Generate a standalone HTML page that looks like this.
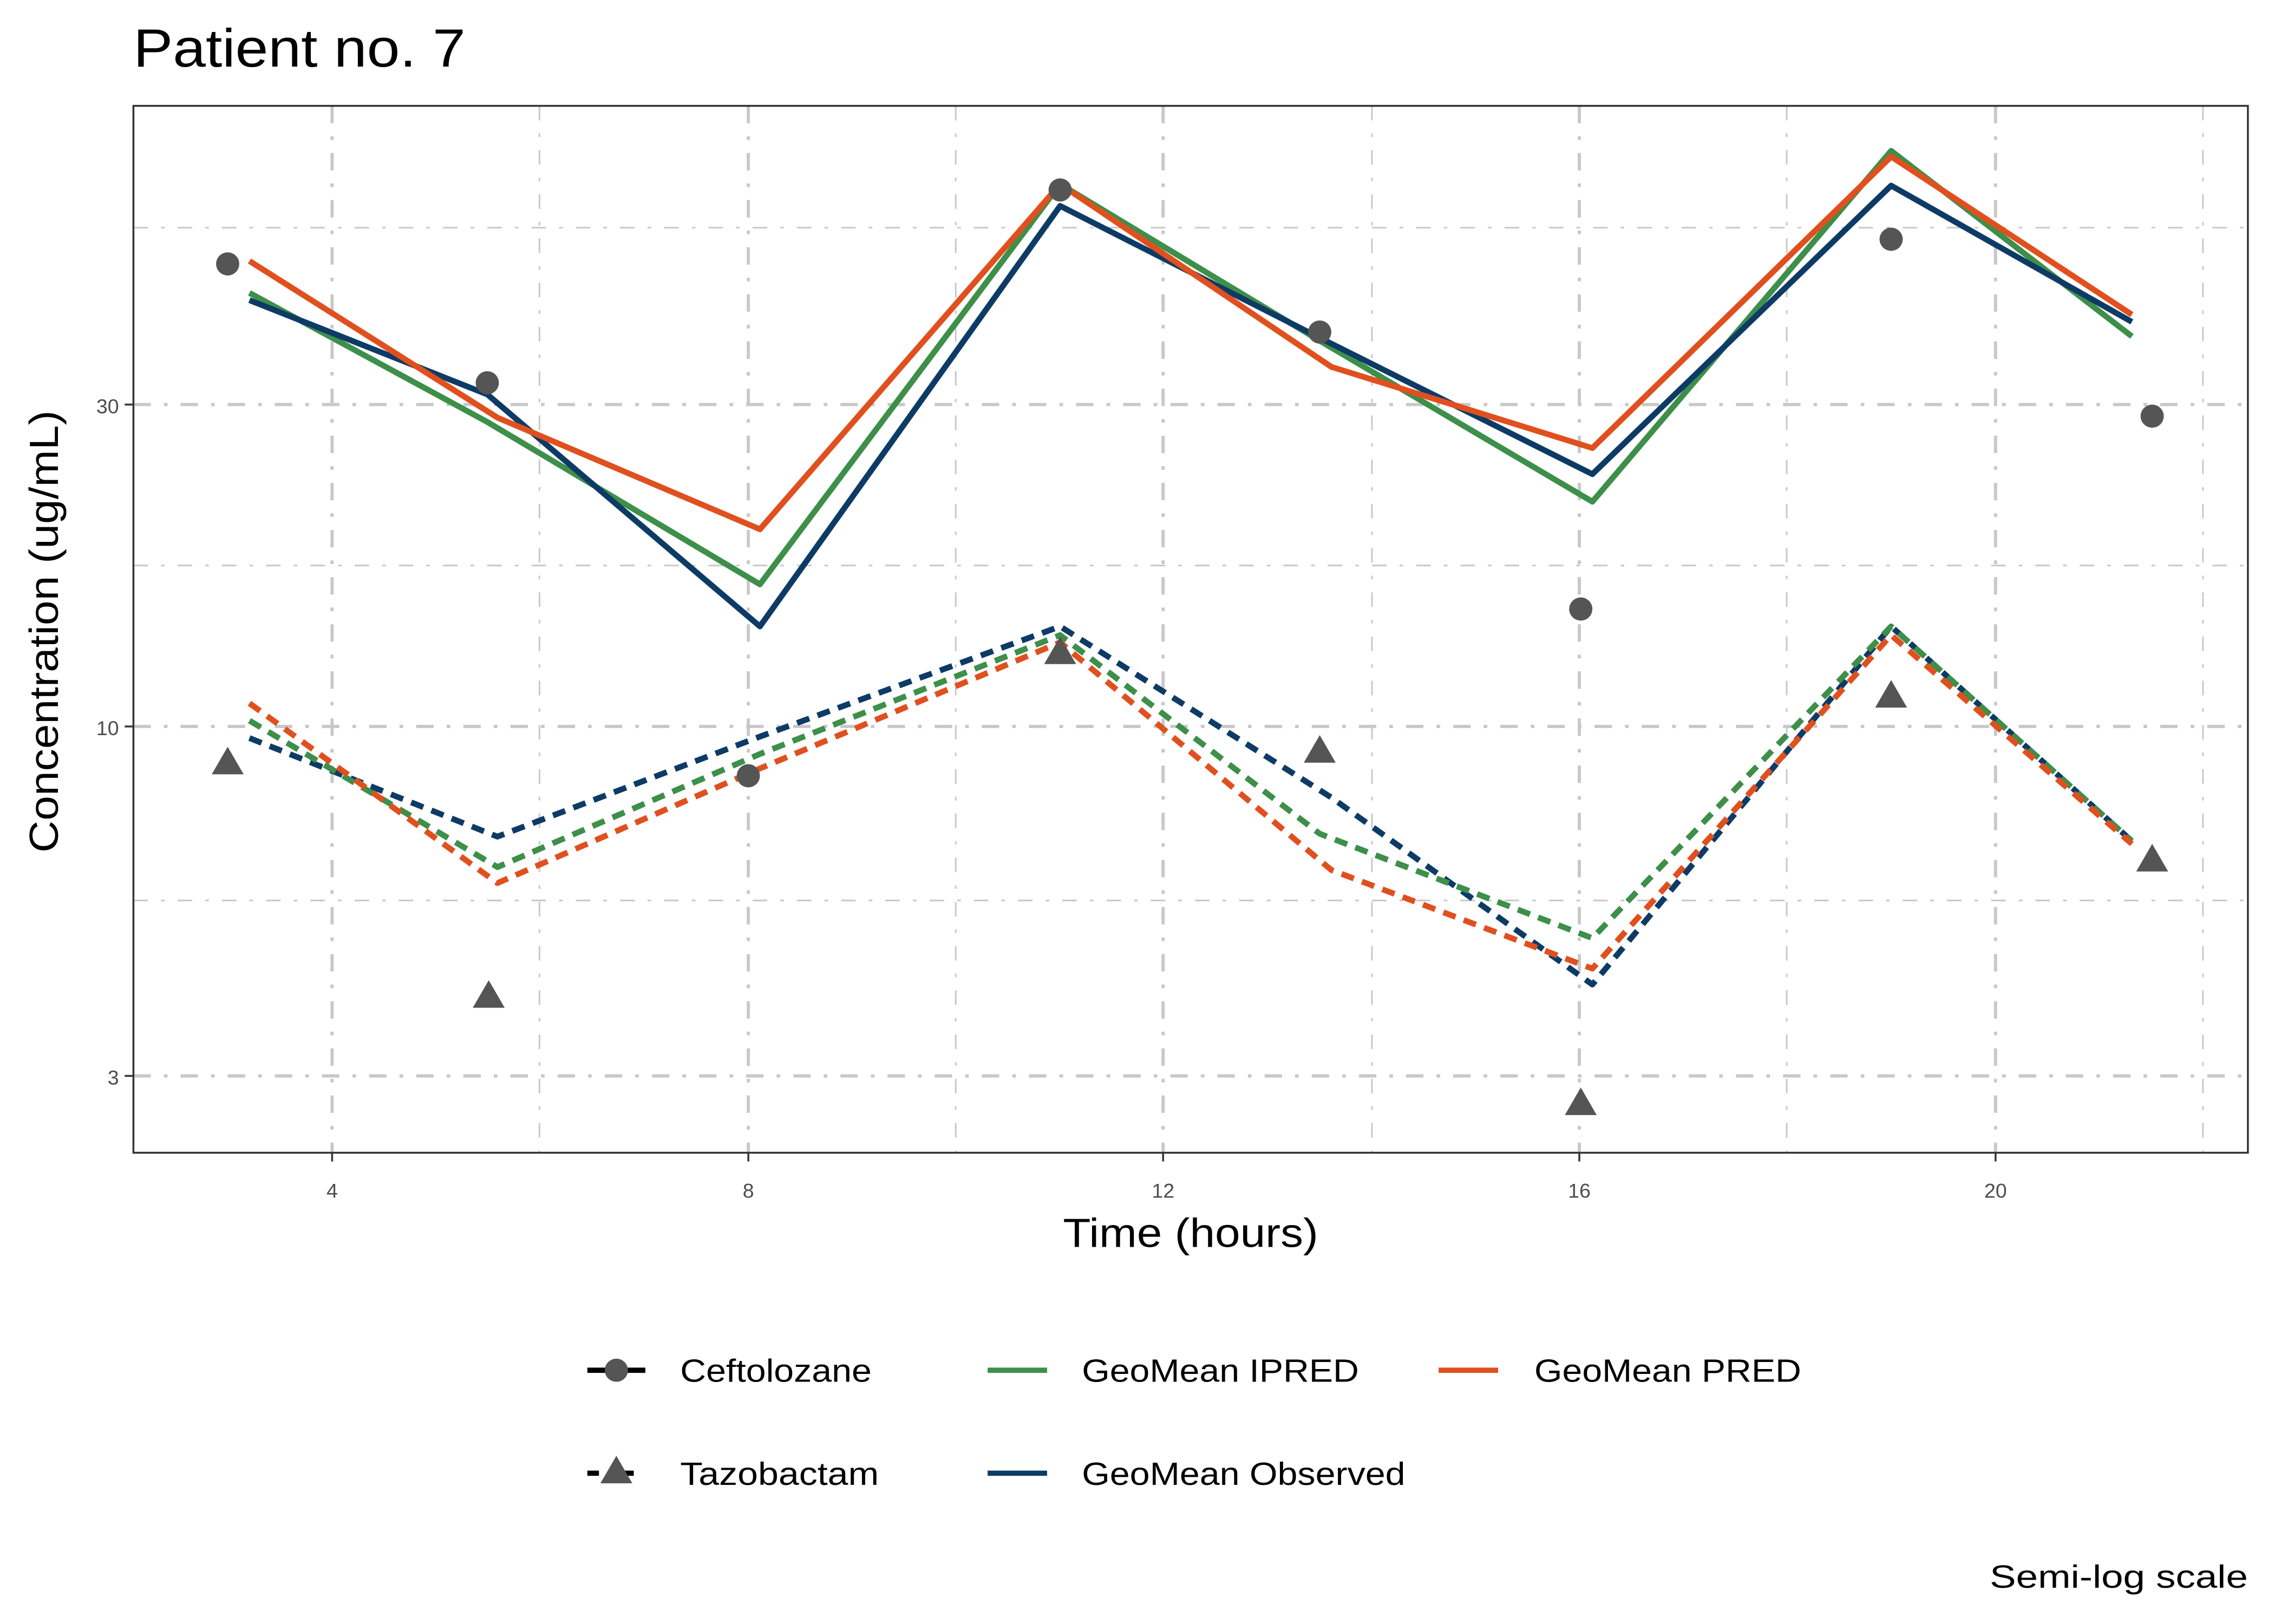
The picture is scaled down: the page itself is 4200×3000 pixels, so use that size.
<!DOCTYPE html>
<html><head><meta charset="utf-8"><style>
html,body{margin:0;padding:0;background:#fff;}
svg{display:block;}
text{font-family:"Liberation Sans",Arial,sans-serif;}
</style></head><body>
<svg width="4200" height="3000" viewBox="0 0 1568 1120" xmlns="http://www.w3.org/2000/svg">
<rect width="1568" height="1120" fill="#fff"/>
<text x="92" y="46" font-size="37" fill="#000" textLength="229" lengthAdjust="spacingAndGlyphs">Patient no. 7</text>
<g stroke="#c8c8c8" fill="none">
 <g stroke-width="1.1" stroke-dasharray="10 9 2.5 9">
  <line x1="92" x2="1550" y1="157" y2="157"/>
  <line x1="92" x2="1550" y1="390" y2="390"/>
  <line x1="92" x2="1550" y1="621" y2="621"/>
  <line y1="73" y2="795" x1="372" x2="372"/>
  <line y1="73" y2="795" x1="659" x2="659"/>
  <line y1="73" y2="795" x1="946" x2="946"/>
  <line y1="73" y2="795" x1="1232" x2="1232"/>
  <line y1="73" y2="795" x1="1519" x2="1519"/>
 </g>
 <g stroke-width="2.2" stroke-dasharray="12 9 2.5 9">
  <line x1="92" x2="1550" y1="279" y2="279"/>
  <line x1="92" x2="1550" y1="501" y2="501"/>
  <line x1="92" x2="1550" y1="742" y2="742"/>
  <line y1="73" y2="795" x1="229" x2="229"/>
  <line y1="73" y2="795" x1="516" x2="516"/>
  <line y1="73" y2="795" x1="802" x2="802"/>
  <line y1="73" y2="795" x1="1089" x2="1089"/>
  <line y1="73" y2="795" x1="1376" x2="1376"/>
 </g>
</g>
<g fill="none" stroke-width="4" stroke-linejoin="round">
 <polyline stroke="#3d8f4a" points="172,202 336,291 524,403 731,127 910,235 1098,346 1304,104 1470,232"/>
 <polyline stroke="#0d3b66" points="172,207 336,272 524,432 731,142 910,233 1098,327 1304,128 1470,222"/>
 <polyline stroke="#e0501f" points="172,180 343,288 524,365 731,127 918,253 1098,309 1304,108 1470,217"/>
 <g stroke-dasharray="9 6">
  <polyline stroke="#0d3b66" points="172,509 343,577 524,508 731,432 918,550 1098,679 1304,432 1470,580"/>
  <polyline stroke="#3d8f4a" points="172,497 343,598 524,520 731,438 910,575 1098,647 1304,432 1470,580"/>
  <polyline stroke="#e0501f" points="172,485 343,609 524,530 731,443 918,600 1098,668 1304,438 1470,582"/>
 </g>
</g>
<g fill="#555">
 <circle cx="157" cy="182" r="8"/><circle cx="336" cy="264" r="8"/><circle cx="516" cy="535" r="8"/>
 <circle cx="731" cy="131" r="8"/><circle cx="910" cy="229" r="8"/><circle cx="1090" cy="420" r="8"/>
 <circle cx="1304" cy="165" r="8"/><circle cx="1484" cy="287" r="8"/>
 <path d="M157,515 l11,19 h-22z"/><path d="M337,676 l11,19 h-22z"/><path d="M731,439 l11,19 h-22z"/>
 <path d="M910,507 l11,19 h-22z"/><path d="M1090,750 l11,19 h-22z"/><path d="M1304,469 l11,19 h-22z"/>
 <path d="M1484,582 l11,19 h-22z"/>
</g>
<rect x="92" y="73" width="1458" height="722" fill="none" stroke="#333" stroke-width="1.3"/>
<g stroke="#333" stroke-width="1.3">
 <line x1="86" x2="92" y1="279" y2="279"/><line x1="86" x2="92" y1="501" y2="501"/><line x1="86" x2="92" y1="742" y2="742"/>
 <line y1="795" y2="801" x1="229" x2="229"/><line y1="795" y2="801" x1="516" x2="516"/><line y1="795" y2="801" x1="802" x2="802"/>
 <line y1="795" y2="801" x1="1089" x2="1089"/><line y1="795" y2="801" x1="1376" x2="1376"/>
</g>
<g font-size="14" fill="#4d4d4d">
 <text x="82" y="285" text-anchor="end">30</text><text x="82" y="507" text-anchor="end">10</text><text x="82" y="748" text-anchor="end">3</text>
 <text x="229" y="826" text-anchor="middle">4</text><text x="516" y="826" text-anchor="middle">8</text><text x="802" y="826" text-anchor="middle">12</text>
 <text x="1089" y="826" text-anchor="middle">16</text><text x="1376" y="826" text-anchor="middle">20</text>
</g>
<text x="733" y="860" font-size="28" textLength="176" lengthAdjust="spacingAndGlyphs">Time (hours)</text>
<text transform="translate(40,588) rotate(-90)" font-size="28" textLength="305" lengthAdjust="spacingAndGlyphs">Concentration (ug/mL)</text>
<g font-size="22" fill="#000">
 <line x1="405" x2="445" y1="945" y2="945" stroke="#000" stroke-width="3.6"/>
 <circle cx="425" cy="945" r="8" fill="#555"/>
 <line x1="405" x2="445" y1="1016" y2="1016" stroke="#000" stroke-width="3.6" stroke-dasharray="8 16"/>
 <path d="M425,1004 l11,19 h-22z" fill="#555"/>
 <text x="469" y="953" textLength="132" lengthAdjust="spacingAndGlyphs">Ceftolozane</text>
 <text x="469" y="1024" textLength="137" lengthAdjust="spacingAndGlyphs">Tazobactam</text>
 <line x1="681" x2="722" y1="945" y2="945" stroke="#3d8f4a" stroke-width="3.6"/>
 <text x="746" y="953" textLength="191" lengthAdjust="spacingAndGlyphs">GeoMean IPRED</text>
 <line x1="681" x2="722" y1="1016" y2="1016" stroke="#0d3b66" stroke-width="3.6"/>
 <text x="746" y="1024" textLength="223" lengthAdjust="spacingAndGlyphs">GeoMean Observed</text>
 <line x1="992" x2="1033" y1="945" y2="945" stroke="#e0501f" stroke-width="3.6"/>
 <text x="1058" y="953" textLength="184" lengthAdjust="spacingAndGlyphs">GeoMean PRED</text>
 <text x="1372" y="1095" textLength="178" lengthAdjust="spacingAndGlyphs">Semi-log scale</text>
</g>
</svg>
</body></html>
